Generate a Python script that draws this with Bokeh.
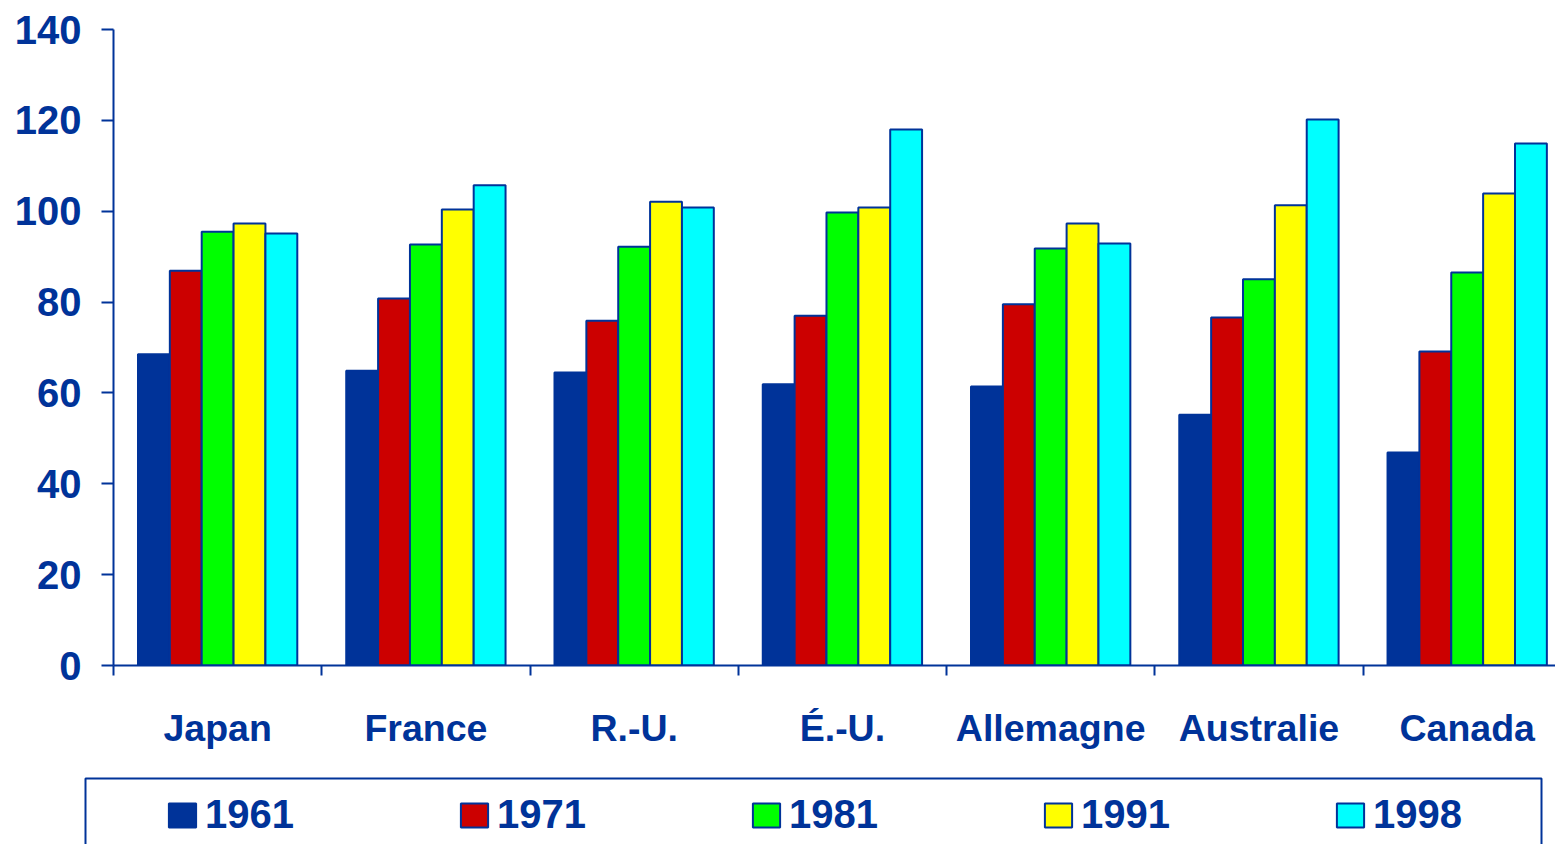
from bokeh.plotting import figure
from bokeh.layouts import column
from bokeh.models import (Range1d, FixedTicker, Legend, LegendItem, ColumnDataSource,
                          BoxAnnotation)
from bokeh.embed import file_html
from bokeh.resources import INLINE

countries = ["Japan", "France", "R.-U.", "É.-U.", "Allemagne", "Australie", "Canada"]
years = ["1961", "1971", "1981", "1991", "1998"]
v1961 = [68.5, 64.9, 64.5, 61.9, 61.4, 55.2, 46.9]
v1971 = [86.9, 80.8, 75.9, 77.0, 79.5, 76.6, 69.1]
v1981 = [95.5, 92.7, 92.2, 99.7, 91.8, 85.0, 86.5]
v1991 = [97.3, 100.4, 102.1, 100.8, 97.3, 101.3, 103.9]
v1998 = [95.1, 105.7, 100.8, 118.0, 92.9, 120.2, 114.9]
y_ticks = [0, 20, 40, 60, 80, 100, 120, 140]
series = [v1961, v1971, v1981, v1991, v1998]
colors = ["#003399", "#CC0000", "#00FF00", "#FFFF00", "#00FFFF"]

BLUE = "#003399"
FONT = "Liberation Sans"
bar_w = 0.153

# ---------------- main chart ----------------
p = figure(width=1555, height=770, output_backend="svg", toolbar_location=None,
           x_range=Range1d(0, 6.924), y_range=Range1d(0, 140),
           min_border_left=113, min_border_right=0, min_border_top=29, min_border_bottom=105)
p.outline_line_color = None
p.xgrid.visible = False
p.ygrid.visible = False
p.background_fill_color = "white"
p.border_fill_color = "white"

for k, (yr, vals, col) in enumerate(zip(years, series, colors)):
    xs = [i + 0.5 + (k - 2) * bar_w for i in range(len(countries))]
    src = ColumnDataSource(dict(x=xs, top=vals))
    p.vbar(x="x", top="top", bottom=0, width=bar_w, source=src,
           fill_color=col, line_color=BLUE, line_width=2)

ya = p.yaxis[0]
ya.ticker = FixedTicker(ticks=y_ticks)
ya.axis_line_color = BLUE
ya.axis_line_width = 2
ya.major_tick_line_color = BLUE
ya.major_tick_line_width = 2
ya.major_tick_out = 12
ya.major_tick_in = 0
ya.minor_tick_line_color = None
ya.major_label_standoff = 20
ya.major_label_text_font = FONT
ya.major_label_text_font_style = "bold"
ya.major_label_text_font_size = "40px"
ya.major_label_text_color = BLUE

xa = p.xaxis[0]
centers = [i + 0.5 for i in range(len(countries))]
bounds = [i for i in range(len(countries) + 1)]
xa.ticker = FixedTicker(ticks=centers, minor_ticks=bounds)
xa.major_label_overrides = {c: n for c, n in zip(centers, countries)}
xa.axis_line_color = BLUE
xa.axis_line_width = 2
xa.major_tick_line_color = None
xa.major_tick_out = 0
xa.major_tick_in = 0
xa.minor_tick_line_color = BLUE
xa.minor_tick_line_width = 2
xa.minor_tick_out = 10
xa.minor_tick_in = 0
xa.major_label_standoff = 31
xa.major_label_text_font = FONT
xa.major_label_text_font_style = "bold"
xa.major_label_text_font_size = "37.5px"
xa.major_label_text_color = BLUE

# ---------------- legend strip ----------------
LH = 74
p2 = figure(width=1555, height=LH, output_backend="svg", toolbar_location=None,
            x_range=Range1d(0, 1555), y_range=Range1d(0, LH),
            x_axis_location=None, y_axis_location=None,
            min_border=0, min_border_left=0, min_border_right=0,
            min_border_top=0, min_border_bottom=0)
p2.outline_line_color = None
p2.grid.visible = False
p2.background_fill_color = "white"
p2.border_fill_color = "white"
for fig in (p, p2):
    try:
        fig.frame_align = False
    except Exception:
        pass

items = []
for yr, vals, col in zip(years, series, colors):
    src = ColumnDataSource(dict(x=list(range(len(vals))), top=vals))
    r = p2.vbar(x="x", top="top", width=0.5, source=src,
                fill_color=col, line_color=BLUE, line_width=2)
    r.visible = False
    items.append(LegendItem(label=yr, renderers=[r]))

p2.add_layout(BoxAnnotation(left=85, right=1541, top=LH - 8, bottom=-20,
                            fill_alpha=0, line_color=BLUE, line_alpha=1, line_width=2))

legend = Legend(items=items, orientation="horizontal", location=(165, 7))
legend.padding = 0
legend.spacing = 163
legend.glyph_width = 34
legend.glyph_height = 30
legend.label_standoff = 6
legend.label_height = 44
legend.label_text_font = FONT
legend.label_text_font_style = "bold"
legend.label_text_font_size = "40px"
legend.label_text_color = BLUE
legend.border_line_color = None
legend.background_fill_alpha = 0
legend.margin = 0
p2.add_layout(legend, "center")

layout = column(p, p2, spacing=0)
open("out.html", "w").write(file_html(layout, INLINE))
